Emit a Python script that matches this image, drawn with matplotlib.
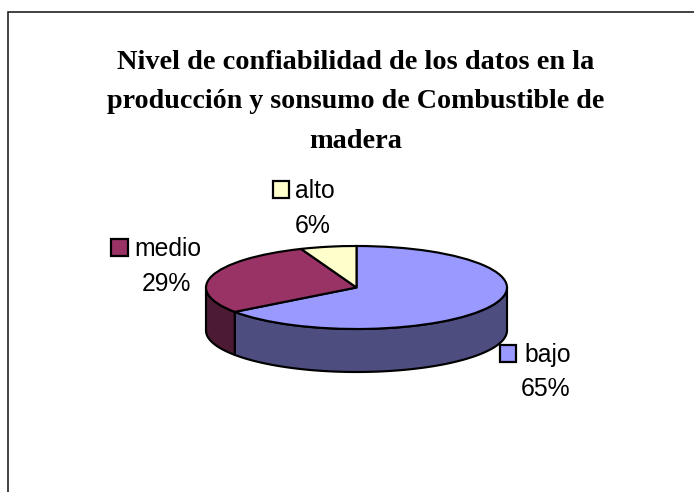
import numpy as np
import matplotlib
matplotlib.use("Agg")
import matplotlib.pyplot as plt
from matplotlib.patches import Polygon, Rectangle

W, H = 694, 492
title_lines = ["Nivel de confiabilidad de los datos en la",
               "producción y sonsumo de Combustible de",
               "madera"]
title_baselines = [69, 108, 148]
title_sizes = [20.4, 20.15, 20.4]
categories = ["bajo", "medio", "alto"]
percent = [65, 29, 6]
colors = ["#9999FF", "#993366", "#FFFFCC"]
side_colors = ["#4D4D80", "#4D1A33", "#80806A"]

fig = plt.figure(figsize=(W / 100, H / 100), dpi=100, facecolor="white")

# Page layer in pixel coordinates
page = fig.add_axes([0, 0, 1, 1], zorder=2)
page.set_xlim(0, W)
page.set_ylim(H, 0)
page.axis("off")
page.patch.set_alpha(0)

# Pie layer: ellipse box of the top face
L, R, T, B = 206, 507, 246, 329
depth_px = 43
pie_ax = fig.add_axes([L / W, 1 - B / H, (R - L) / W, (B - T) / H], zorder=1)
ry_px = (B - T) / 2
depth = depth_px / ry_px
lw = 1.55

# Side walls
fracs = np.array(percent, float) / sum(percent)
edges = np.concatenate([[0], np.cumsum(fracs)]) * 2 * np.pi  # clockwise from 12 o'clock
for i in range(len(percent)):
    a0 = max(edges[i], np.pi / 2)
    a1 = min(edges[i + 1], 3 * np.pi / 2)
    if a1 <= a0:
        continue
    th = np.linspace(a0, a1, 120)
    x, y = np.sin(th), np.cos(th)
    verts = np.vstack([np.column_stack([x, y]),
                       np.column_stack([x[::-1], y[::-1] - depth])])
    pie_ax.add_patch(Polygon(verts, closed=True, facecolor=side_colors[i],
                             edgecolor="black", linewidth=lw, clip_on=False,
                             joinstyle="round", zorder=1))

wedges, _ = pie_ax.pie(percent, colors=colors, startangle=90, counterclock=False,
                       radius=1, wedgeprops=dict(edgecolor="black", linewidth=lw,
                                                 clip_on=False, zorder=2))
for w in wedges:
    w.set_zorder(2)
pie_ax.set_aspect("auto")
pie_ax.set_xlim(-1, 1)
pie_ax.set_ylim(-1, 1)
pie_ax.axis("off")

# Frame
page.plot([8, 8, W], [H, 11.5, 11.5], color="#222222", lw=1.2, clip_on=False,
          solid_joinstyle="miter")

# Title
for line, yb, fs in zip(title_lines, title_baselines, title_sizes):
    page.text(356, yb, line, family="Liberation Serif", weight="bold", fontsize=fs,
              ha="center", va="baseline", color="black")

# Labels
label_layout = {
    "bajo": ((500, 345, 16, 17), 524, 362, 546, 396),
    "medio": ((111, 239, 17, 17), 134, 256, 166, 291),
    "alto": ((273, 181, 16, 17), 295, 198, 313, 233),
}
for cat, pct, col in zip(categories, percent, colors):
    (kx, ky, kw, kh), tx, ty, px, py = label_layout[cat]
    page.add_patch(Rectangle((kx, ky), kw, kh, facecolor=col, edgecolor="black", linewidth=1.6))
    page.text(tx, ty, cat, family="Liberation Sans", fontsize=17.8, ha="left", va="baseline")
    page.text(px, py, f"{pct}%", family="Liberation Sans", fontsize=17.8, ha="center", va="baseline")

fig.savefig("out.png", dpi=100, facecolor="white")
